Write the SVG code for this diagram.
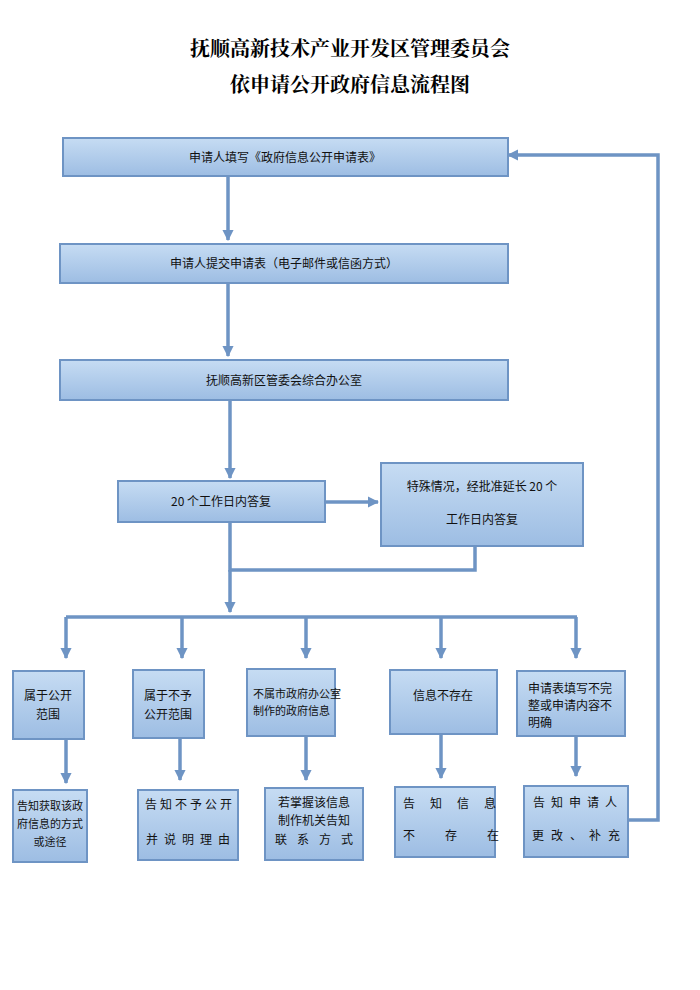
<svg xmlns="http://www.w3.org/2000/svg" width="700" height="990" viewBox="0 0 700 990">
<defs>
<linearGradient id="g" x1="0" y1="0" x2="0" y2="1"><stop offset="0" stop-color="#c6dcf3"/><stop offset="1" stop-color="#9dbde3"/></linearGradient>
<marker id="a" viewBox="0 0 10 10" refX="9" refY="5" markerWidth="3.2" markerHeight="3.2" orient="auto"><path d="M0,0L10,5L0,10z" fill="#6e94c4"/></marker>
<style>
.b{fill:url(#g);stroke:#6e94c4;stroke-width:2}
.t{font-family:"Noto Sans CJK SC",sans-serif;font-size:12px;fill:#111}
.s{font-size:11px}
.h{font-family:"Noto Serif CJK SC","Noto Sans CJK SC",serif;font-size:20px;font-weight:bold;text-anchor:middle}
.c{stroke:#6e94c4;stroke-width:3.5;fill:none}
.m{text-anchor:middle}
</style>
</defs>
<rect width="700" height="990" fill="#fff"/>
<text class="h" x="350" y="56">抚顺高新技术产业开发区管理委员会</text>
<text class="h" x="350" y="92">依申请公开政府信息流程图</text>
<g id="connectors">
<path class="c" marker-end="url(#a)" d="M228,176V240"/>
<path class="c" marker-end="url(#a)" d="M228,283V356"/>
<path class="c" marker-end="url(#a)" d="M230,400V478"/>
<path class="c" marker-end="url(#a)" d="M325,502H378"/>
<path class="c" d="M230,522V570H475V546"/>
<path class="c" marker-end="url(#a)" d="M230,570V612"/>
<path class="c" d="M66,617H577"/>
<path class="c" marker-end="url(#a)" d="M66,617V658"/>
<path class="c" marker-end="url(#a)" d="M182,617V658"/>
<path class="c" marker-end="url(#a)" d="M306,617V658"/>
<path class="c" marker-end="url(#a)" d="M441,617V658"/>
<path class="c" marker-end="url(#a)" d="M576,617V658"/>
<path class="c" marker-end="url(#a)" d="M66,739V783"/>
<path class="c" marker-end="url(#a)" d="M180,738V780"/>
<path class="c" marker-end="url(#a)" d="M306,736V780"/>
<path class="c" marker-end="url(#a)" d="M441,734V778"/>
<path class="c" marker-end="url(#a)" d="M576,736V776"/>
<path class="c" marker-end="url(#a)" d="M628,820H658V155H508"/>
</g>
<g id="n1"><rect class="b" x="63" y="138" width="445" height="38"/><text class="t m" x="285" y="162">申请人填写《政府信息公开申请表》</text></g>
<g id="n2"><rect class="b" x="60" y="244" width="448" height="39"/><text class="t m" x="284" y="268">申请人提交申请表（电子邮件或信函方式）</text></g>
<g id="n3"><rect class="b" x="60" y="360" width="448" height="40"/><text class="t m" x="284" y="385">抚顺高新区管委会综合办公室</text></g>
<g id="n4"><rect class="b" x="118" y="481" width="207" height="41"/><text class="t m" x="221" y="506">20 个工作日内答复</text></g>
<g id="n5"><rect class="b" x="381" y="463" width="202" height="83"/><text class="t m" x="482" y="491">特殊情况，经批准延长 20 个</text><text class="t m" x="482" y="524">工作日内答复</text></g>
<g id="n6"><rect class="b" x="13" y="671" width="71" height="68"/><text class="t m" x="48" y="700">属于公开</text><text class="t m" x="48" y="719">范围</text></g>
<g id="n7"><rect class="b" x="133" y="670" width="71" height="68"/><text class="t m" x="168" y="700">属于不予</text><text class="t m" x="168" y="719">公开范围</text></g>
<g id="n8"><rect class="b" x="247" y="669" width="88" height="67"/><text class="t s" x="253" y="698">不属市政府办公室</text><text class="t s" x="253" y="715">制作的政府信息</text></g>
<g id="n9"><rect class="b" x="390" y="670" width="107" height="64"/><text class="t m" x="443" y="700">信息不存在</text></g>
<g id="n10"><rect class="b" x="517" y="671" width="108" height="65"/><text class="t" x="528" y="693">申请表填写不完</text><text class="t" x="528" y="710">整或申请内容不</text><text class="t" x="528" y="727">明确</text></g>
<g id="n11"><rect class="b" x="13" y="790" width="74" height="72"/><text class="t s m" x="50" y="810">告知获取该政</text><text class="t s m" x="50" y="828">府信息的方式</text><text class="t s m" x="50" y="846">或途径</text></g>
<g id="n12"><rect class="b" x="138" y="790" width="100" height="70"/><text class="t" x="145" y="809" letter-spacing="3">告知不予公开</text><text class="t" x="146" y="844" letter-spacing="6">并说明理由</text></g>
<g id="n13"><rect class="b" x="265" y="788" width="98" height="72"/><text class="t m" x="314" y="807">若掌握该信息</text><text class="t m" x="314" y="825">制作机关告知</text><text class="t" x="275" y="844" letter-spacing="10">联系方式</text></g>
<g id="n14"><rect class="b" x="395" y="787" width="100" height="70"/><text class="t" x="403" y="808" letter-spacing="15">告知信息</text><text class="t" x="403" y="840" letter-spacing="30">不存在</text></g>
<g id="n15"><rect class="b" x="524" y="786" width="104" height="71"/><text class="t" x="533" y="807" letter-spacing="6">告知申请人</text><text class="t" x="532" y="840" letter-spacing="7">更改、补充</text></g>
</svg>
